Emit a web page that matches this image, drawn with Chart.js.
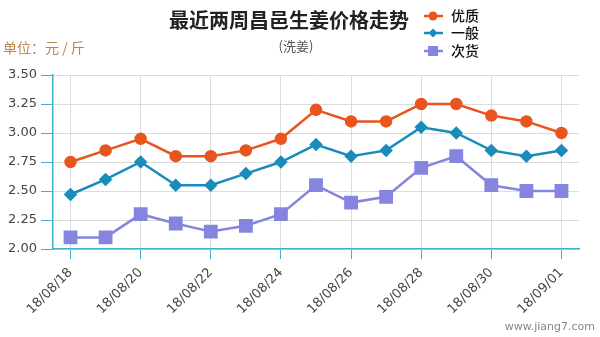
<!DOCTYPE html>
<html>
<head>
<meta charset="utf-8">
<script src="https://cdn.jsdelivr.net/npm/chart.js@4"></script>
<style>
  html, body { margin: 0; padding: 0; background: #fff; }
  #wrap { width: 600px; height: 337px; }
</style>
</head>
<body>
<div id="wrap"><canvas id="myChart" width="600" height="337"></canvas></div>
<script>
const dates = ["18/08/18", "18/08/19", "18/08/20", "18/08/21", "18/08/22", "18/08/23", "18/08/24",
  "18/08/25", "18/08/26", "18/08/27", "18/08/28", "18/08/29", "18/08/30", "18/08/31", "18/09/01"]
const youzhi = [2.75, 2.85, 2.95, 2.80, 2.80, 2.85, 2.95, 3.20, 3.10, 3.10, 3.25, 3.25, 3.15, 3.10, 3.00]
const yiban = [2.47, 2.60, 2.75, 2.55, 2.55, 2.65, 2.75, 2.90, 2.80, 2.85, 3.05, 3.00, 2.85, 2.80, 2.85]
const cihuo = [2.10, 2.10, 2.30, 2.22, 2.15, 2.20, 2.30, 2.55, 2.40, 2.45, 2.70, 2.80, 2.55, 2.50, 2.50]
const yTicks = [2.00, 2.25, 2.50, 2.75, 3.00, 3.25, 3.50]

const axisColor = "#3db3cc"
const gridColor = "#dcdcdc"
const cjk = "'Noto Sans CJK SC', sans-serif"
const tickFont = "'DejaVu Sans', Verdana, sans-serif"

// title, subtitle, unit, legend and site mark
const decor = {
  id: "decor",
  afterDraw(chart) {
    const ctx = chart.ctx
    ctx.save()
    ctx.textBaseline = "middle"
    ctx.fillStyle = "#222"
    ctx.font = "bold 20px " + cjk
    ctx.textAlign = "center"
    ctx.fillText("最近两周昌邑生姜价格走势", 289, 20)
    ctx.fillStyle = "#555"
    ctx.font = "13px " + cjk
    ctx.fillText("(洗姜)", 296, 46)
    ctx.textAlign = "left"
    ctx.fillStyle = "#b8864f"
    ctx.font = "14px " + cjk
    ctx.fillText("单位：元 / 斤", 3, 48)
    ctx.fillStyle = "#888"
    ctx.font = "11px " + tickFont
    ctx.textAlign = "right"
    ctx.fillText("www.jiang7.com", 595, 327)

    const rows = [16, 33, 51]
    chart.data.datasets.forEach((ds, i) => {
      const y = rows[i]
      ctx.strokeStyle = ds.borderColor
      ctx.fillStyle = ds.borderColor
      ctx.lineWidth = 2.5
      ctx.beginPath()
      ctx.moveTo(424, y)
      ctx.lineTo(443, y)
      ctx.stroke()
      ctx.beginPath()
      if (ds.pointStyle === "circle") {
        ctx.arc(433, y, 4.5, 0, Math.PI * 2)
      } else if (ds.pointStyle === "rectRot") {
        ctx.moveTo(433, y - 4.5); ctx.lineTo(437.5, y); ctx.lineTo(433, y + 4.5); ctx.lineTo(428.5, y)
      } else {
        ctx.rect(428, y - 5, 10, 10)
      }
      ctx.fill()
      ctx.fillStyle = "#111"
      ctx.font = "500 14px " + cjk
      ctx.textAlign = "left"
      ctx.fillText(ds.label, 451, y)
    })
    ctx.restore()
  }
}

new Chart(document.getElementById("myChart").getContext("2d"), {
  type: "line",
  data: {
    labels: dates,
    datasets: [
      {
        label: "优质", data: youzhi, borderColor: "#e8561e", backgroundColor: "#e8561e",
        pointStyle: "circle", pointRadius: 5, borderWidth: 2.5, tension: 0
      },
      {
        label: "一般", data: yiban, borderColor: "#1a8cbb", backgroundColor: "#1a8cbb",
        pointStyle: "rectRot", pointRadius: 5, borderWidth: 2.5, tension: 0
      },
      {
        label: "次货", data: cihuo, borderColor: "#8585e0", backgroundColor: "#8585e0",
        pointStyle: "rect", pointRadius: 8, borderWidth: 2.5, tension: 0
      }
    ]
  },
  options: {
    responsive: false,
    animation: false,
    layout: { padding: { top: 75, right: 21, left: 0, bottom: 0 } },
    plugins: { legend: { display: false }, title: { display: false }, tooltip: { enabled: false } },
    scales: {
      x: {
        offset: true,
        afterFit(scale) { scale.height = 88 },
        border: { color: axisColor, width: 1.5 },
        grid: {
          color: ctx => (ctx.index % 2 === 0 ? gridColor : "transparent"),
          tickColor: ctx => (ctx.index % 2 === 0 ? axisColor : "transparent"),
          tickLength: 10,
          offset: false
        },
        ticks: {
          autoSkip: false,
          maxRotation: 45,
          minRotation: 45,
          color: "#444",
          font: { family: tickFont, size: 13 },
          padding: 6,
          callback(v, i) { return i % 2 === 0 ? dates[i] : "" }
        }
      },
      y: {
        min: 2,
        max: 3.5,
        afterFit(scale) { scale.width = 53 },
        afterBuildTicks(scale) { scale.ticks = yTicks.map(v => ({ value: v })) },
        border: { color: axisColor, width: 1.5 },
        grid: { color: gridColor, tickColor: axisColor, tickLength: 12 },
        ticks: {
          color: "#444",
          font: { family: tickFont, size: 13 },
          padding: 4,
          callback(v) { return Number(v).toFixed(2) }
        }
      }
    }
  },
  plugins: [decor]
})
</script>
</body>
</html>
